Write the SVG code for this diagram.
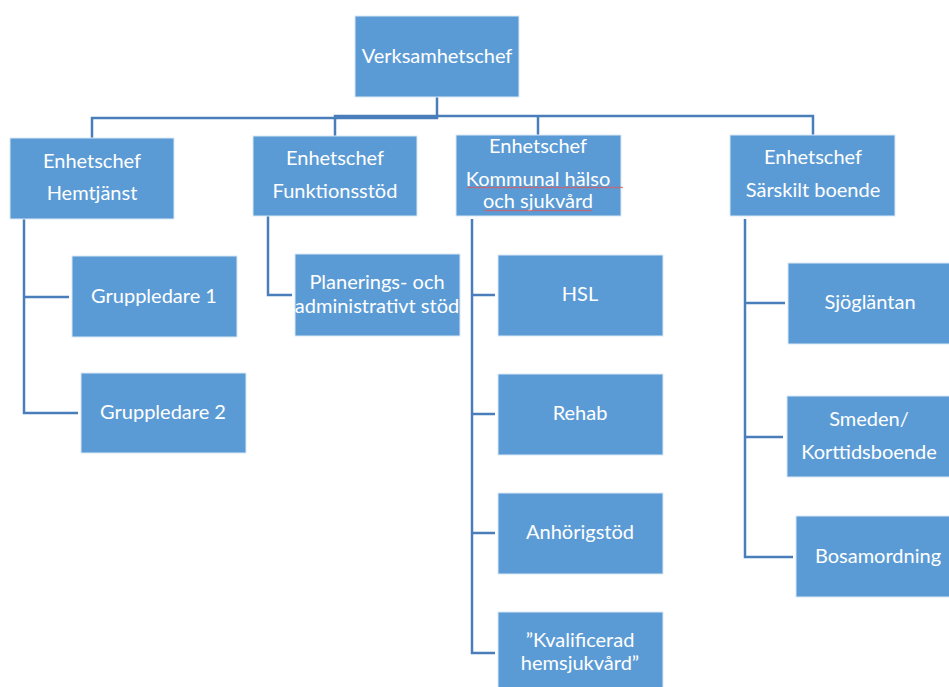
<svg xmlns="http://www.w3.org/2000/svg" width="949" height="687" viewBox="0 0 949 687">
<style>
.box{fill:#5B9BD5;stroke:#DCE8F5;stroke-width:1}
.t{font-family:Lato,"Open Sans","Liberation Sans",sans-serif;font-size:20px;fill:#FFFFFF;text-anchor:middle}
.c{fill:none;stroke:#4A7EBB;stroke-width:2.5}
.sp{fill:none;stroke:#E05A5A;stroke-width:1}
</style>
<rect width="949" height="687" fill="#FFFFFF"/>
<g id="connectors">
<path class="c" d="M437 97 V118 H92 V138"/>
<path class="c" d="M335 136 V116 H813 V135"/>
<path class="c" d="M538 116 V135"/>
<path class="c" d="M24 219 V413 H78"/>
<path class="c" d="M24 297 H69"/>
<path class="c" d="M268 216 V295 H292"/>
<path class="c" d="M472 219 V653 H495"/>
<path class="c" d="M472 295 H495"/>
<path class="c" d="M472 414 H495"/>
<path class="c" d="M472 533 H495"/>
<path class="c" d="M745 219 V557 H793"/>
<path class="c" d="M745 303 H785"/>
<path class="c" d="M745 437 H783"/>
</g>
<g id="verksamhetschef">
<rect class="box" x="355" y="16" width="164" height="81"/>
<text class="t" x="437" y="63">Verksamhetschef</text>
</g>
<g id="hemtjanst">
<rect class="box" x="10" y="138" width="164" height="81"/>
<text class="t" x="92" y="168">Enhetschef</text>
<text class="t" x="92" y="200">Hemtjänst</text>
</g>
<g id="funktionsstod">
<rect class="box" x="253" y="136" width="164" height="80"/>
<text class="t" x="335" y="165">Enhetschef</text>
<text class="t" x="335" y="198">Funktionsstöd</text>
</g>
<g id="kommunal">
<rect class="box" x="456" y="135" width="165" height="81"/>
<text class="t" x="538" y="153">Enhetschef</text>
<text class="t" x="538" y="186">Kommunal hälso</text>
<text class="t" x="538" y="208">och sjukvård</text>
<path class="sp" d="M467 188 l2 -1 l2 1 l2 -1 l2 1 l2 -1 l2 1 l2 -1 l2 1 l2 -1 l2 1 l2 -1 l2 1 l2 -1 l2 1 l2 -1 l2 1 l2 -1 l2 1 l2 -1 l2 1 l2 -1 l2 1 l2 -1 l2 1 l2 -1 l2 1 l2 -1 l2 1 l2 -1 l2 1 l2 -1 l2 1 l2 -1 l2 1 l2 -1 l2 1 l2 -1 l2 1 l2 -1 l2 1 l2 -1 l2 1 l2 -1 l2 1 l2 -1 l2 1 l2 -1 l2 1 l2 -1 l2 1 l2 -1 l2 1 l2 -1 l2 1 l2 -1 l2 1 l2 -1 l2 1 l2 -1 l2 1 l2 -1 l2 1 l2 -1 l2 1 l2 -1 l2 1 l2 -1 l2 1 l2 -1 l2 1 l2 -1 l2 1 l2 -1 l2 1 l2 -1 l2 1 l2 -1 l2 1"/>
<path class="sp" d="M484 211 l2 -1 l2 1 l2 -1 l2 1 l2 -1 l2 1 l2 -1 l2 1 l2 -1 l2 1 l2 -1 l2 1 l2 -1 l2 1 l2 -1 l2 1 l2 -1 l2 1 l2 -1 l2 1 l2 -1 l2 1 l2 -1 l2 1 l2 -1 l2 1 l2 -1 l2 1 l2 -1 l2 1 l2 -1 l2 1 l2 -1 l2 1 l2 -1 l2 1 l2 -1 l2 1 l2 -1 l2 1 l2 -1 l2 1 l2 -1 l2 1 l2 -1 l2 1 l2 -1 l2 1 l2 -1 l2 1 l2 -1 l2 1 l2 -1 l2 1"/>
</g>
<g id="sarskilt">
<rect class="box" x="730" y="135" width="165" height="81"/>
<text class="t" x="813" y="164">Enhetschef</text>
<text class="t" x="813" y="197">Särskilt boende</text>
</g>
<g id="gruppledare1">
<rect class="box" x="72" y="256" width="165" height="81"/>
<text class="t" x="154" y="303">Gruppledare 1</text>
</g>
<g id="gruppledare2">
<rect class="box" x="81" y="373" width="165" height="80"/>
<text class="t" x="163" y="419">Gruppledare 2</text>
</g>
<g id="planerings">
<rect class="box" x="295" y="254" width="165" height="82"/>
<text class="t" x="377" y="289">Planerings- och</text>
<text class="t" x="377" y="313">administrativt stöd</text>
</g>
<g id="hsl">
<rect class="box" x="498" y="255" width="165" height="81"/>
<text class="t" x="580" y="301">HSL</text>
</g>
<g id="rehab">
<rect class="box" x="498" y="374" width="165" height="81"/>
<text class="t" x="580" y="420">Rehab</text>
</g>
<g id="anhorigstod">
<rect class="box" x="498" y="493" width="165" height="81"/>
<text class="t" x="580" y="539">Anhörigstöd</text>
</g>
<g id="kvalificerad">
<rect class="box" x="498" y="612" width="165" height="81"/>
<text class="t" x="580" y="647">”Kvalificerad</text>
<text class="t" x="580" y="670">hemsjukvård”</text>
</g>
<g id="sjoglantan">
<rect class="box" x="788" y="263" width="165" height="81"/>
<text class="t" x="870" y="309">Sjögläntan</text>
</g>
<g id="smeden">
<rect class="box" x="787" y="396" width="165" height="81"/>
<text class="t" x="869" y="426">Smeden/</text>
<text class="t" x="869" y="459">Korttidsboende</text>
</g>
<g id="bosamordning">
<rect class="box" x="796" y="516" width="165" height="81"/>
<text class="t" x="878" y="563">Bosamordning</text>
</g>
</svg>
